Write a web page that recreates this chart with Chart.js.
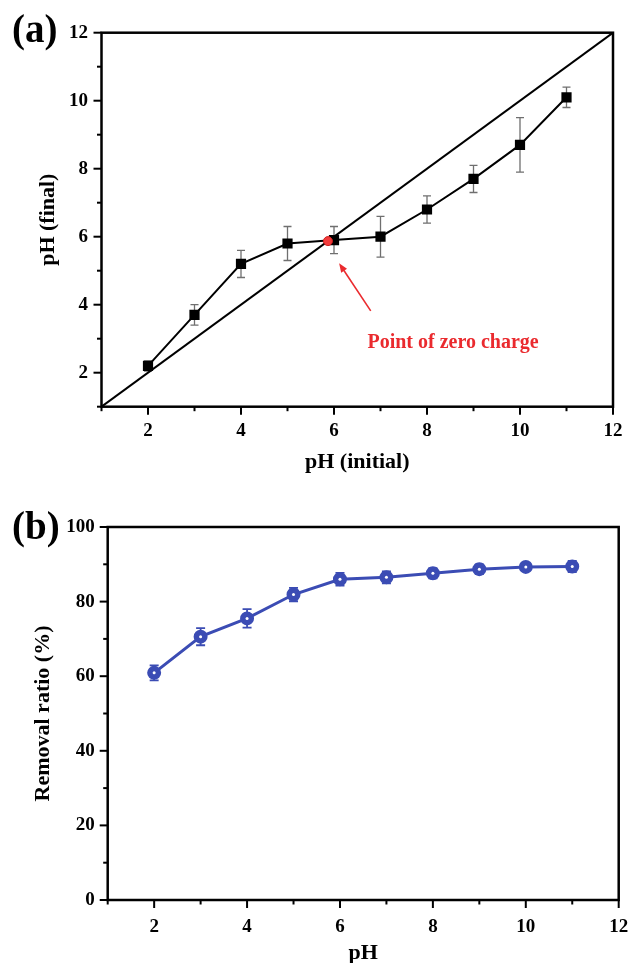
<!DOCTYPE html>
<html>
<head>
<meta charset="utf-8">
<script src="https://cdn.jsdelivr.net/npm/chart.js@4.4.0/dist/chart.umd.min.js"></script>
<style>
  body { margin: 0; background: #fff; }
  #wrap { position: relative; width: 629px; height: 963px; }
  canvas { position: absolute; left: 0; }
  #chartA { top: 0; }
  #chartB { top: 480px; }
  .tag { position: absolute; font: bold 39px "Liberation Serif", serif; line-height: 1; color: #000; }
</style>
</head>
<body>
<div id="wrap">
  <canvas id="chartA" width="629" height="480"></canvas>
  <canvas id="chartB" width="629" height="483"></canvas>
  <div class="tag" style="left:12px;top:9px">(a)</div>
  <div class="tag" style="left:12px;top:506px">(b)</div>
</div>
<script>
// (a) pH drift: final pH vs initial pH
const phInitial = [2, 3, 4, 5, 6, 7, 8, 9, 10, 11];
const phFinal = [2.2, 3.7, 5.2, 5.8, 5.9, 6.0, 6.8, 7.7, 8.7, 10.1];
const phFinalErr = [0.15, 0.3, 0.4, 0.5, 0.4, 0.6, 0.4, 0.4, 0.8, 0.3];
const refLine = [1, 12];          // y = x
const zeroCharge = 5.87;

// (b) removal ratio vs pH
const removalPH = [2, 3, 4, 5, 6, 7, 8, 9, 10, 11];
const removalRatio = [60.9, 70.6, 75.5, 81.9, 86.0, 86.5, 87.6, 88.7, 89.3, 89.4];
const removalErr = [2.0, 2.3, 2.5, 1.8, 1.7, 1.6, 1.4, 1.3, 0.8, 1.5];

// labelled ticks
const phTicks = [2, 4, 6, 8, 10, 12];
const removalTicks = [0, 20, 40, 60, 80, 100];

const SERIF = '"Liberation Serif", "Times New Roman", serif';
const BLUE = '#3b4cb4';
const RED = '#ea2a2e';

// arrow + caption for the point of zero charge, in data units
const note = { tipX: 6.11, tipY: 5.22, tailX: 6.79, tailY: 3.82, textX: 8.56, textY: 2.73 };

const pts = (xs, ys) => xs.map((x, i) => ({ x, y: ys[i] }));

// box around the plot plus outward ticks (long where labelled)
const frame = {
  id: 'frame',
  afterDraw(chart) {
    const { ctx, chartArea: a } = chart;
    const xs = chart.scales.x, ys = chart.scales.y;
    ctx.save();
    ctx.strokeStyle = '#000';
    ctx.lineWidth = 2;
    xs.ticks.forEach(t => {
      const p = xs.getPixelForValue(t.value);
      const len = t.label !== '' ? 8 : 4.5;
      ctx.beginPath(); ctx.moveTo(p, a.bottom); ctx.lineTo(p, a.bottom + len); ctx.stroke();
    });
    ys.ticks.forEach(t => {
      const p = ys.getPixelForValue(t.value);
      const len = t.label !== '' ? 8 : 4.5;
      ctx.beginPath(); ctx.moveTo(a.left, p); ctx.lineTo(a.left - len, p); ctx.stroke();
    });
    ctx.lineWidth = 2.5;
    ctx.strokeRect(a.left, a.top, a.right - a.left, a.bottom - a.top);
    ctx.restore();
  }
};

const errorBars = {
  id: 'errorBars',
  beforeDatasetsDraw(chart) {
    const { ctx, scales: { x, y } } = chart;
    chart.data.datasets.forEach(ds => {
      if (!ds.errors) return;
      ctx.save();
      ctx.strokeStyle = ds.errorColor;
      ctx.lineWidth = ds.errorWidth;
      ds.data.forEach((pt, i) => {
        const px = x.getPixelForValue(pt.x);
        const hi = y.getPixelForValue(pt.y + ds.errors[i]);
        const lo = y.getPixelForValue(pt.y - ds.errors[i]);
        const c = ds.capHalf;
        ctx.beginPath();
        ctx.moveTo(px, hi); ctx.lineTo(px, lo);
        ctx.moveTo(px - c, hi); ctx.lineTo(px + c, hi);
        ctx.moveTo(px - c, lo); ctx.lineTo(px + c, lo);
        ctx.stroke();
      });
      ctx.restore();
    });
  }
};

const zeroChargeNote = {
  id: 'zeroChargeNote',
  afterDatasetsDraw(chart) {
    const { ctx, scales: { x, y } } = chart;
    const tx = x.getPixelForValue(note.tipX), ty = y.getPixelForValue(note.tipY);
    const sx = x.getPixelForValue(note.tailX), sy = y.getPixelForValue(note.tailY);
    const ang = Math.atan2(ty - sy, tx - sx);
    ctx.save();
    ctx.strokeStyle = RED;
    ctx.fillStyle = RED;
    ctx.lineWidth = 1.6;
    ctx.beginPath(); ctx.moveTo(sx, sy);
    ctx.lineTo(tx - 6 * Math.cos(ang), ty - 6 * Math.sin(ang)); ctx.stroke();
    ctx.beginPath();
    ctx.moveTo(tx, ty);
    ctx.lineTo(tx - 9 * Math.cos(ang) + 3.5 * Math.sin(ang), ty - 9 * Math.sin(ang) - 3.5 * Math.cos(ang));
    ctx.lineTo(tx - 9 * Math.cos(ang) - 3.5 * Math.sin(ang), ty - 9 * Math.sin(ang) + 3.5 * Math.cos(ang));
    ctx.closePath(); ctx.fill();
    ctx.font = 'bold 20px ' + SERIF;
    ctx.textAlign = 'center';
    ctx.textBaseline = 'alphabetic';
    ctx.fillText('Point of zero charge', x.getPixelForValue(note.textX), y.getPixelForValue(note.textY));
    ctx.restore();
  }
};

function axis(opts) {
  return {
    type: 'linear',
    min: opts.min,
    max: opts.max,
    grid: { display: false, drawTicks: false },
    border: { display: false },
    ticks: {
      stepSize: opts.step,
      padding: opts.pad,
      color: '#000',
      font: { family: SERIF, size: 19, weight: 'bold' },
      callback: v => opts.labels.includes(v) ? String(v) : ''
    },
    title: {
      display: true,
      text: opts.title,
      color: '#000',
      font: { family: SERIF, size: 22, weight: 'bold' },
      padding: opts.titlePad
    },
    afterFit: s => {
      // fixed axis box; no extra room for label overhang
      if (s.isHorizontal()) s.height = opts.size; else s.width = opts.size;
      s.paddingLeft = s.paddingRight = s.paddingTop = s.paddingBottom = 0;
    }
  };
}

new Chart(document.getElementById('chartA'), {
  type: 'scatter',
  data: {
    datasets: [
      {
        data: [{ x: zeroCharge, y: zeroCharge }],
        pointStyle: 'circle',
        pointRadius: 4.5,
        backgroundColor: '#f23c3c',
        borderColor: '#d01f1f',
        borderWidth: 1
      },
      {
        data: pts(phInitial, phFinal),
        showLine: true,
        borderColor: '#000',
        borderWidth: 2,
        pointStyle: 'rect',
        pointRadius: 5.8,
        backgroundColor: '#000',
        errors: phFinalErr,
        errorColor: '#6f6f6f',
        errorWidth: 1.3,
        capHalf: 4
      },
      {
        data: pts(refLine, refLine),
        showLine: true,
        borderColor: '#000',
        borderWidth: 2,
        pointRadius: 0
      }
    ]
  },
  options: {
    responsive: false,
    animation: false,
    devicePixelRatio: 1,
    layout: { padding: { left: 0, top: 32.7, right: 16, bottom: 0 } },
    plugins: { legend: { display: false }, tooltip: { enabled: false } },
    scales: {
      x: axis({ min: 1, max: 12, step: 1, labels: phTicks, pad: 13, title: 'pH (initial)',
        titlePad: { top: 4, bottom: 4 }, size: 73.3 }),
      y: axis({ min: 1, max: 12, step: 1, labels: phTicks, pad: 13.5, title: 'pH (final)',
        titlePad: { top: 35, bottom: 4 }, size: 101.5 })
    }
  },
  plugins: [errorBars, zeroChargeNote, frame]
});

new Chart(document.getElementById('chartB'), {
  type: 'scatter',
  data: {
    datasets: [
      {
        data: pts(removalPH, removalRatio),
        showLine: false,
        pointStyle: 'circle',
        pointRadius: 1.5,
        backgroundColor: '#fff',
        borderWidth: 0
      },
      {
        data: pts(removalPH, removalRatio),
        showLine: true,
        borderColor: BLUE,
        borderWidth: 3,
        pointStyle: 'circle',
        pointRadius: 5.5,
        backgroundColor: BLUE,
        pointBorderColor: BLUE,
        errors: removalErr,
        errorColor: BLUE,
        errorWidth: 1.8,
        capHalf: 4.5
      }
    ]
  },
  options: {
    responsive: false,
    animation: false,
    devicePixelRatio: 1,
    layout: { padding: { left: 0, top: 47, right: 10.3, bottom: 0 } },
    plugins: { legend: { display: false }, tooltip: { enabled: false } },
    scales: {
      x: axis({ min: 1, max: 12, step: 1, labels: phTicks, pad: 16, title: 'pH',
        titlePad: { top: 4, bottom: -4 }, size: 63 }),
      y: axis({ min: 0, max: 100, step: 10, labels: removalTicks, pad: 13, title: 'Removal ratio (%)',
        titlePad: { top: 30, bottom: 4 }, size: 107.7 })
    }
  },
  plugins: [errorBars, frame]
});
</script>
</body>
</html>
